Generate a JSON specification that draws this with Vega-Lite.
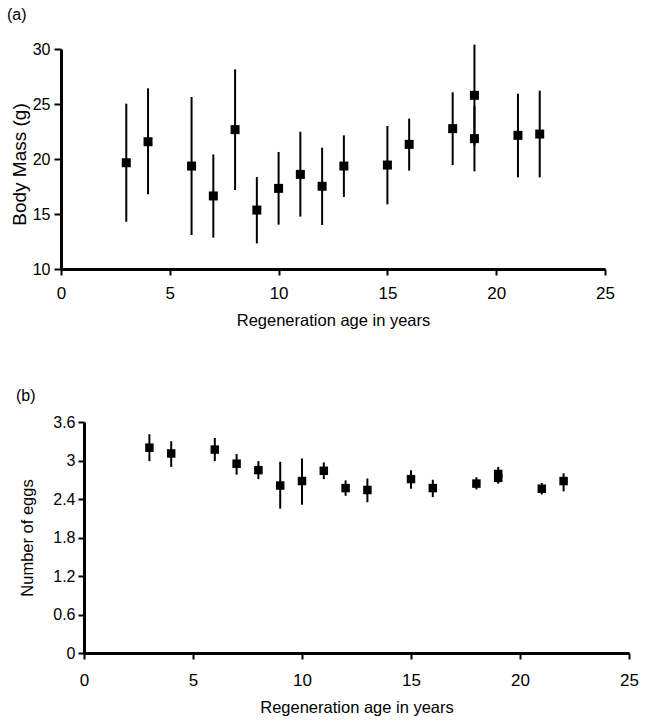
{
  "$schema": "https://vega.github.io/schema/vega-lite/v6.json",
  "background": "white",
  "padding": {"left": 6, "top": 7, "right": 5, "bottom": 5},
  "spacing": 59,
  "config": {
    "view": {"stroke": null},
    "font": "Liberation Sans",
    "axis": {
      "grid": false,
      "domainColor": "black",
      "domainWidth": 3,
      "tickColor": "black",
      "tickWidth": 2,
      "labelColor": "black",
      "titleColor": "black",
      "labelFont": "Liberation Sans",
      "titleFont": "Liberation Sans",
      "titleFontWeight": "normal",
      "labelOverlap": false
    },
    "title": {"font": "Liberation Sans", "fontWeight": "normal", "color": "black"}
  },
  "vconcat": [
    {
      "spacing": 0,
      "hconcat": [
        {
          "width": 1,
          "height": 10,
          "data": {"values": []},
          "mark": {"type": "point", "opacity": 0}
        },
        {
          "width": 544,
          "height": 220,
          "title": {"text": "(a)", "anchor": "start", "frame": "group", "dx": -54, "offset": 18, "fontSize": 16},
          "data": {"values": [
            {"age": 3, "mass": 19.66, "lo": 14.3, "hi": 25.03},
            {"age": 4, "mass": 21.57, "lo": 16.79, "hi": 26.42},
            {"age": 6, "mass": 19.36, "lo": 13.09, "hi": 25.64},
            {"age": 7, "mass": 16.64, "lo": 12.85, "hi": 20.42},
            {"age": 8, "mass": 22.67, "lo": 17.18, "hi": 28.15},
            {"age": 9, "mass": 15.36, "lo": 12.33, "hi": 18.36},
            {"age": 10, "mass": 17.33, "lo": 14.03, "hi": 20.64},
            {"age": 11, "mass": 18.6, "lo": 14.76, "hi": 22.48},
            {"age": 12, "mass": 17.52, "lo": 14.0, "hi": 21.03},
            {"age": 13, "mass": 19.36, "lo": 16.55, "hi": 22.15},
            {"age": 15, "mass": 19.45, "lo": 15.88, "hi": 23.0},
            {"age": 16, "mass": 21.33, "lo": 18.94, "hi": 23.67},
            {"age": 18, "mass": 22.76, "lo": 19.45, "hi": 26.06},
            {"age": 19, "mass": 25.79, "lo": 21.2, "hi": 30.4},
            {"age": 19, "mass": 21.85, "lo": 18.88, "hi": 24.8},
            {"age": 21, "mass": 22.15, "lo": 18.33, "hi": 25.94},
            {"age": 22, "mass": 22.27, "lo": 18.33, "hi": 26.21}
          ]},
          "encoding": {
            "x": {
              "field": "age", "type": "quantitative",
              "scale": {"domain": [0, 25], "nice": false, "zero": false},
              "axis": {
                "title": "Regeneration age in years", "values": [0, 5, 10, 15, 20, 25], "tickCount": 20,
                "labelFontSize": 17, "titleFontSize": 16.5, "tickSize": 6,
                "labelPadding": 10, "titlePadding": 11, "labelFlush": false
              }
            }
          },
          "layer": [
            {
              "mark": {"type": "rule", "color": "black", "strokeWidth": 2},
              "encoding": {
                "y": {"field": "lo", "type": "quantitative",
                  "scale": {"domain": [10, 30], "nice": false, "zero": false},
                  "axis": {
                    "title": "Body Mass (g)", "values": [10, 15, 20, 25, 30], "tickCount": 20,
                    "labelFontSize": 16, "titleFontSize": 19, "tickSize": 7,
                    "labelPadding": 4, "titleX": -42, "titleY": 115, "titleBaseline": "middle"
                  }
                },
                "y2": {"field": "hi"}
              }
            },
            {
              "mark": {"type": "square", "color": "black", "size": 81, "opacity": 1},
              "encoding": {"y": {"field": "mass", "type": "quantitative"}}
            }
          ]
        }
      ]
    },
    {
      "spacing": 0,
      "hconcat": [
        {
          "width": 10,
          "height": 10,
          "data": {"values": []},
          "mark": {"type": "point", "opacity": 0}
        },
        {
          "width": 545,
          "height": 231,
          "title": {"text": "(b)", "anchor": "start", "frame": "group", "dx": -68, "offset": 10, "fontSize": 16},
          "data": {"values": [
            {"age": 3, "eggs": 3.2, "lo": 2.99, "hi": 3.41},
            {"age": 4, "eggs": 3.11, "lo": 2.9, "hi": 3.3},
            {"age": 6, "eggs": 3.17, "lo": 2.99, "hi": 3.35},
            {"age": 7, "eggs": 2.95, "lo": 2.78, "hi": 3.1},
            {"age": 8, "eggs": 2.85, "lo": 2.71, "hi": 2.99},
            {"age": 9, "eggs": 2.61, "lo": 2.25, "hi": 2.98},
            {"age": 10, "eggs": 2.68, "lo": 2.31, "hi": 3.03},
            {"age": 11, "eggs": 2.84, "lo": 2.71, "hi": 2.97},
            {"age": 12, "eggs": 2.57, "lo": 2.45, "hi": 2.69},
            {"age": 13, "eggs": 2.54, "lo": 2.35, "hi": 2.72},
            {"age": 15, "eggs": 2.71, "lo": 2.56, "hi": 2.85},
            {"age": 16, "eggs": 2.57, "lo": 2.43, "hi": 2.7},
            {"age": 18, "eggs": 2.64, "lo": 2.55, "hi": 2.74},
            {"age": 19, "eggs": 2.79, "lo": 2.7, "hi": 2.9},
            {"age": 19, "eggs": 2.73, "lo": 2.64, "hi": 2.82},
            {"age": 21, "eggs": 2.56, "lo": 2.47, "hi": 2.65},
            {"age": 22, "eggs": 2.68, "lo": 2.52, "hi": 2.8}
          ]},
          "encoding": {
            "x": {
              "field": "age", "type": "quantitative",
              "scale": {"domain": [0, 25], "nice": false, "zero": false},
              "axis": {
                "title": "Regeneration age in years", "values": [0, 5, 10, 15, 20, 25], "tickCount": 20,
                "labelFontSize": 17, "titleFontSize": 16.5, "tickSize": 6,
                "labelPadding": 13, "titlePadding": 11, "labelFlush": false
              }
            }
          },
          "layer": [
            {
              "mark": {"type": "rule", "color": "black", "strokeWidth": 2},
              "encoding": {
                "y": {"field": "lo", "type": "quantitative",
                  "scale": {"domain": [0, 3.6], "nice": false, "zero": false},
                  "axis": {
                    "title": "Number of eggs", "values": [0, 0.6, 1.2, 1.8, 2.4, 3, 3.6], "tickCount": 20, "format": "~g",
                    "labelFontSize": 16, "titleFontSize": 16.5, "tickSize": 6,
                    "labelPadding": 3, "titleX": -57, "titleBaseline": "middle"
                  }
                },
                "y2": {"field": "hi"}
              }
            },
            {
              "mark": {"type": "square", "color": "black", "size": 72, "opacity": 1},
              "encoding": {"y": {"field": "eggs", "type": "quantitative"}}
            }
          ]
        }
      ]
    }
  ]
}
